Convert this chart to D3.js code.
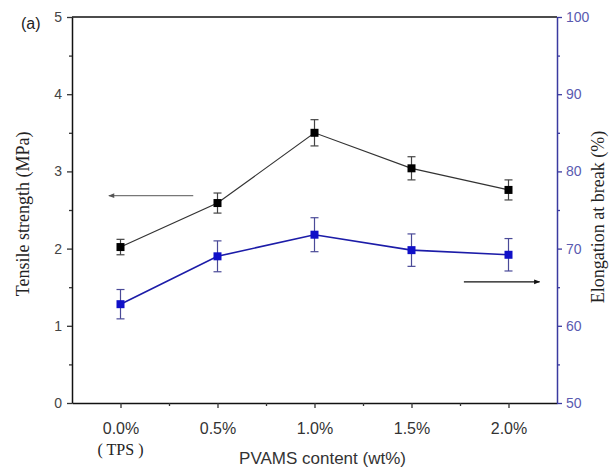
<!DOCTYPE html>
<html>
<head>
<meta charset="utf-8">
<script src="https://cdn.jsdelivr.net/npm/d3@7"></script>
<style>
  html, body { margin: 0; padding: 0; background: #fff; }
  svg { display: block; }
</style>
</head>
<body>
<svg id="chart" width="610" height="473"></svg>
<script>
// PVAMS content (wt%) and tick labels
const content = [0, 0.5, 1.0, 1.5, 2.0];
const contentLabels = ["0.0%", "0.5%", "1.0%", "1.5%", "2.0%"];

// Tensile strength (MPa), left axis
const tensile = [2.02, 2.59, 3.50, 3.04, 2.76];
const tensileErr = [0.10, 0.13, 0.17, 0.15, 0.13];

// Elongation at break (%), right axis
const elongation = [62.8, 69.0, 71.8, 69.8, 69.2];
const elongationErr = [1.9, 2.0, 2.2, 2.1, 2.1];

// Axis ticks
const leftTicks = [0, 1, 2, 3, 4, 5];
const leftMinor = [0.5, 1.5, 2.5, 3.5, 4.5];
const rightTicks = [50, 60, 70, 80, 90, 100];
const rightMinor = [55, 65, 75, 85, 95];
const xMinor = [0.25, 0.75, 1.25, 1.75];

const svg = d3.select("#chart");
const L = 72, R = 557, T = 17, B = 403;

const x = d3.scaleLinear().domain([-0.25, 2.25]).range([L, R]);
const yL = d3.scaleLinear().domain([0, 5]).range([B, T]);
const yR = d3.scaleLinear().domain([50, 100]).range([B, T]);

const sans = "'Liberation Sans', Arial, sans-serif";
const serif = "'Liberation Serif', 'Times New Roman', serif";
const blue = "#1c1ca8";
const axisBlue = "#3a3aa0";

// arrow heads
const defs = svg.append("defs");
function head(id, color) {
  defs.append("marker").attr("id", id)
    .attr("viewBox", "0 0 10 10").attr("refX", 9).attr("refY", 5)
    .attr("markerWidth", 7).attr("markerHeight", 6).attr("orient", "auto")
    .attr("markerUnits", "userSpaceOnUse")
    .append("path").attr("d", "M0,1 L10,5 L0,9 Z").attr("fill", color);
}
head("hGray", "#555");
head("hBlack", "#111");

// frame top line
svg.append("line").attr("x1", L).attr("x2", R).attr("y1", T).attr("y2", T)
  .attr("stroke", "#111").attr("stroke-width", 1.5);

// bottom axis
const gx = svg.append("g").attr("transform", `translate(0,${B})`)
  .call(d3.axisBottom(x).tickValues(content).tickFormat((d, i) => contentLabels[i])
    .tickSize(5).tickPadding(15).tickSizeOuter(0));
gx.append("g").call(d3.axisBottom(x).tickValues(xMinor).tickSize(3).tickFormat(""));
gx.selectAll(".domain").attr("stroke", "#111").attr("stroke-width", 1.5);
gx.selectAll("line").attr("stroke", "#333").attr("stroke-width", 1.3);
gx.selectAll("g > g > .domain").remove();
gx.selectAll("text").attr("font-family", sans).attr("font-size", 16).attr("fill", "#333");

svg.append("text").attr("x", x(0)).attr("y", 455).attr("text-anchor", "middle")
  .attr("font-family", serif).attr("font-size", 16).attr("fill", "#222").text("( TPS )");
svg.append("text").attr("x", (L + R) / 2 + 8).attr("y", 464).attr("text-anchor", "middle")
  .attr("font-family", sans).attr("font-size", 17).attr("fill", "#333").text("PVAMS content (wt%)");

// left axis
const gl = svg.append("g").attr("transform", `translate(${L},0)`)
  .call(d3.axisLeft(yL).tickValues(leftTicks).tickFormat(d3.format("d"))
    .tickSize(5).tickPadding(5).tickSizeOuter(0));
gl.append("g").call(d3.axisLeft(yL).tickValues(leftMinor).tickSize(3).tickFormat(""));
gl.selectAll("g > g > .domain").remove();
gl.select(".domain").attr("stroke", "#111").attr("stroke-width", 1.5);
gl.selectAll("line").attr("stroke", "#333").attr("stroke-width", 1.3);
gl.selectAll("text").attr("font-family", sans).attr("font-size", 14).attr("fill", "#444");

svg.append("text").attr("transform", `translate(29,${yL(2.45)}) rotate(-90)`)
  .attr("text-anchor", "middle").attr("font-family", serif).attr("font-size", 18)
  .attr("fill", "#222").text("Tensile strength (MPa)");

// right axis
const gr = svg.append("g").attr("transform", `translate(${R},0)`)
  .call(d3.axisRight(yR).tickValues(rightTicks).tickFormat(d3.format("d"))
    .tickSize(5).tickPadding(4).tickSizeOuter(0));
gr.append("g").call(d3.axisRight(yR).tickValues(rightMinor).tickSize(3).tickFormat(""));
gr.selectAll("g > g > .domain").remove();
gr.select(".domain").attr("stroke", axisBlue).attr("stroke-width", 1.5);
gr.selectAll("line").attr("stroke", axisBlue).attr("stroke-width", 1.3);
gr.selectAll("text").attr("font-family", sans).attr("font-size", 14).attr("fill", "#5a5ab0");

svg.append("text").attr("transform", `translate(604,${yR(74.1)}) rotate(-90)`)
  .attr("text-anchor", "middle").attr("font-family", serif).attr("font-size", 18)
  .attr("fill", "#222").text("Elongation at break (%)");

// (a) panel label
svg.append("text").attr("x", 21).attr("y", 29).attr("font-family", sans)
  .attr("font-size", 16).attr("fill", "#222").text("(a)");

// series drawing
function series(vals, errs, y, lineColor, markColor, errColor, lw) {
  const g = svg.append("g");
  const pts = content.map((c, i) => ({ c, v: vals[i], e: errs[i] }));
  g.append("path").datum(pts)
    .attr("d", d3.line().x(d => x(d.c)).y(d => y(d.v)))
    .attr("fill", "none").attr("stroke", lineColor).attr("stroke-width", lw);
  const eb = g.selectAll(".eb").data(pts).enter().append("g");
  eb.append("line").attr("x1", d => x(d.c)).attr("x2", d => x(d.c))
    .attr("y1", d => y(d.v - d.e)).attr("y2", d => y(d.v + d.e));
  eb.append("line").attr("x1", d => x(d.c) - 4).attr("x2", d => x(d.c) + 4)
    .attr("y1", d => y(d.v - d.e)).attr("y2", d => y(d.v - d.e));
  eb.append("line").attr("x1", d => x(d.c) - 4).attr("x2", d => x(d.c) + 4)
    .attr("y1", d => y(d.v + d.e)).attr("y2", d => y(d.v + d.e));
  eb.selectAll("line").attr("stroke", errColor).attr("stroke-width", 1.2);
  g.selectAll(".mk").data(pts).enter().append("rect")
    .attr("x", d => x(d.c) - 4).attr("y", d => y(d.v) - 4)
    .attr("width", 8).attr("height", 8).attr("fill", markColor);
}

series(elongation, elongationErr, yR, blue, "#1010c8", "#4a4a98", 1.6);
series(tensile, tensileErr, yL, "#333", "#000", "#444", 1.2);

// direction arrows pointing to each series' axis
svg.append("line").attr("x1", x(0.375)).attr("x2", x(-0.06))
  .attr("y1", yL(2.685)).attr("y2", yL(2.685))
  .attr("stroke", "#777").attr("stroke-width", 1.3).attr("marker-end", "url(#hGray)");
svg.append("line").attr("x1", x(1.77)).attr("x2", x(2.16))
  .attr("y1", yR(65.7)).attr("y2", yR(65.7))
  .attr("stroke", "#111").attr("stroke-width", 1.3).attr("marker-end", "url(#hBlack)");
</script>
</body>
</html>
